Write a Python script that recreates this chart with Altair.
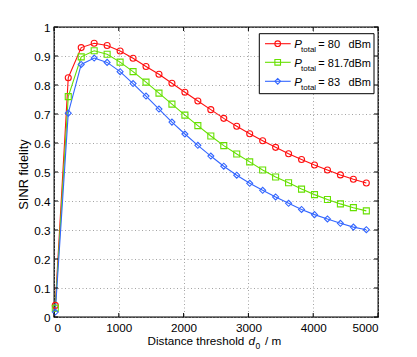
import altair as alt
import pandas as pd

# ---------------- data ----------------
distance = [20, 220, 420, 620, 820, 1020, 1220, 1420, 1620, 1820, 2020, 2220, 2420,
            2620, 2820, 3020, 3220, 3420, 3620, 3820, 4020, 4220, 4420, 4620, 4820]
fid_80 = [0.040, 0.825, 0.929, 0.944, 0.936, 0.917, 0.892, 0.864, 0.837, 0.806, 0.775, 0.745, 0.715,
          0.685, 0.658, 0.632, 0.608, 0.585, 0.563, 0.543, 0.524, 0.507, 0.490, 0.475, 0.462]
fid_817 = [0.030, 0.760, 0.897, 0.918, 0.906, 0.879, 0.846, 0.810, 0.772, 0.734, 0.696, 0.660, 0.624,
           0.591, 0.562, 0.535, 0.507, 0.483, 0.463, 0.441, 0.422, 0.405, 0.390, 0.377, 0.366]
fid_83 = [0.017, 0.703, 0.871, 0.893, 0.878, 0.846, 0.805, 0.762, 0.717, 0.672, 0.631, 0.592, 0.555,
          0.520, 0.489, 0.461, 0.437, 0.414, 0.392, 0.371, 0.353, 0.338, 0.323, 0.310, 0.301]
series_names = ["80", "81.7", "83"]
series_labels = ["= 80", "= 81.7", "= 83"]
series_colors = ["#FF1010", "#66E000", "#3366FF"]
series_shapes = ["circle", "square", "diamond"]
x_ticks = [0, 1000, 2000, 3000, 4000, 5000]
y_ticks = [0, 0.1, 0.2, 0.3, 0.4, 0.5, 0.6, 0.7, 0.8, 0.9, 1.0]

rows = []
for name, vals in zip(series_names, [fid_80, fid_817, fid_83]):
    for d, v in zip(distance, vals):
        rows.append({"d": d, "fid": v, "series": name})
df = pd.DataFrame(rows)

W, H = 324, 290
FONT = "Liberation Sans"

xs = alt.Scale(domain=[0, 5000], nice=False)
ys = alt.Scale(domain=[0, 1], nice=False)
color = alt.Color("series:N", scale=alt.Scale(domain=series_names, range=series_colors), legend=None)
shape = alt.Shape("series:N", scale=alt.Scale(domain=series_names, range=series_shapes), legend=None)

x_axis = alt.Axis(values=x_ticks, grid=True, ticks=False, domain=False, title=None, format="d",
                  labelFontSize=11.7, labelPadding=5, labelFont=FONT, labelColor="black")
y_axis = alt.Axis(values=y_ticks, grid=True, ticks=False, domain=False, format="~g",
                  title="SINR fidelity", titleX=-31, titleY=147, titleAngle=-90,
                  titleBaseline="middle", titleAlign="center",
                  titleFont=FONT, titleFontSize=12.8, titleFontWeight="normal", titleColor="black",
                  labelFontSize=11.7, labelPadding=4, labelFont=FONT, labelColor="black")

base = alt.Chart(df)
lines = base.mark_line(strokeWidth=1.1).encode(
    x=alt.X("d:Q", scale=xs, axis=x_axis),
    y=alt.Y("fid:Q", scale=ys, axis=y_axis),
    color=color, detail="series:N")
points = base.mark_point(filled=False, size=36, strokeWidth=1.1, opacity=1).encode(
    x=alt.X("d:Q", scale=xs, axis=x_axis), y=alt.Y("fid:Q", scale=ys, axis=y_axis), color=color, shape=shape)

# inward ticks on all four sides
xt = pd.DataFrame({"t": x_ticks})
yt = pd.DataFrame({"t": y_ticks})
tick_layers = [
    alt.Chart(xt).mark_rule(color="black", strokeWidth=1).encode(
        x=alt.X("t:Q", scale=xs, axis=x_axis), y=alt.value(H), y2=alt.value(H - 4)),
    alt.Chart(xt).mark_rule(color="black", strokeWidth=1).encode(
        x=alt.X("t:Q", scale=xs, axis=x_axis), y=alt.value(0), y2=alt.value(4)),
    alt.Chart(yt).mark_rule(color="black", strokeWidth=1).encode(
        y=alt.Y("t:Q", scale=ys, axis=y_axis), x=alt.value(0), x2=alt.value(4)),
    alt.Chart(yt).mark_rule(color="black", strokeWidth=1).encode(
        y=alt.Y("t:Q", scale=ys, axis=y_axis), x=alt.value(W), x2=alt.value(W - 4)),
]

one = pd.DataFrame({"k": [0]})

# x-axis title with italic d and subscript 0
xt_y = 317.5
xtitle = [
    alt.Chart(one).mark_text(align="left", baseline="alphabetic", font=FONT, fontSize=11.7, color="black").encode(
        x=alt.value(93.5), y=alt.value(xt_y), text=alt.value("Distance threshold")),
    alt.Chart(one).mark_text(align="left", baseline="alphabetic", font=FONT, fontSize=11.7, fontStyle="italic", color="black").encode(
        x=alt.value(194.5), y=alt.value(xt_y), text=alt.value("d")),
    alt.Chart(one).mark_text(align="left", baseline="alphabetic", font=FONT, fontSize=8.5, color="black").encode(
        x=alt.value(201.5), y=alt.value(xt_y + 4), text=alt.value("0")),
    alt.Chart(one).mark_text(align="left", baseline="alphabetic", font=FONT, fontSize=11.7, color="black").encode(
        x=alt.value(211), y=alt.value(xt_y), text=alt.value("/ m")),
]

# legend
LF = 11
leg = [alt.Chart(one).mark_rect(fill="white", stroke="black", strokeWidth=1).encode(
    x=alt.value(205.3), x2=alt.value(320), y=alt.value(6.7), y2=alt.value(66.7))]
row_y = [16.7, 35.3, 54.3]
for i in range(3):
    yy = row_y[i]
    c = series_colors[i]
    leg.append(alt.Chart(one).mark_rule(color=c, strokeWidth=1.1).encode(
        x=alt.value(211), x2=alt.value(236.7), y=alt.value(yy)))
    leg.append(alt.Chart(one).mark_point(filled=False, size=32, strokeWidth=1.1, color=c, shape=series_shapes[i], opacity=1).encode(
        x=alt.value(223.7), y=alt.value(yy)))
    leg.append(alt.Chart(one).mark_text(align="left", baseline="alphabetic", font=FONT, fontSize=LF + 0.5, fontStyle="italic", color="black").encode(
        x=alt.value(240.3), y=alt.value(yy + 4.2), text=alt.value("P")))
    leg.append(alt.Chart(one).mark_text(align="left", baseline="alphabetic", font=FONT, fontSize=8, color="black").encode(
        x=alt.value(247), y=alt.value(yy + 8.5), text=alt.value("total")))
    leg.append(alt.Chart(one).mark_text(align="left", baseline="alphabetic", font=FONT, fontSize=LF, color="black").encode(
        x=alt.value(264.3), y=alt.value(yy + 4.2), text=alt.value(series_labels[i])))
    leg.append(alt.Chart(one).mark_text(align="right", baseline="alphabetic", font=FONT, fontSize=LF, color="black").encode(
        x=alt.value(317), y=alt.value(yy + 4.2), text=alt.value("dBm")))

chart = alt.layer(lines, points, *tick_layers, *xtitle, *leg).properties(
    width=W, height=H,
    autosize=alt.AutoSizeParams(type="none"),
    padding={"left": 46, "top": 19, "right": 20, "bottom": 38},
    background="white",
).configure_view(stroke="black", strokeWidth=1.3).configure_axis(
    gridColor="#8c8c8c", gridDash=[1, 2.5], gridWidth=0.8, gridOpacity=1)

chart.save("out.html", embed_options={"renderer": "svg", "actions": False})
